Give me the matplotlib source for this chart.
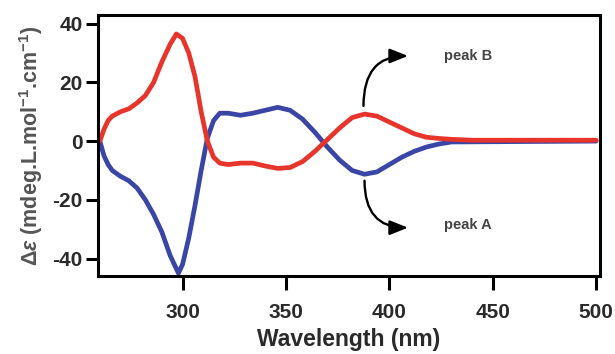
import numpy as np
import matplotlib.pyplot as plt

# CD spectra
wl_red = [260, 262, 264, 266, 270, 274, 278, 282, 286, 290, 294, 297, 300, 303, 306, 309, 312, 315, 318,
          322, 328, 334, 340, 346, 352, 358, 364, 370, 376, 382, 388, 394, 400, 406, 412, 418, 424, 430, 440, 500]
de_red = [0, 4, 7, 8.5, 10, 11, 13, 15.5, 20, 27, 33, 36.5, 35, 30, 22, 10, 0, -5.5, -7.5,
          -8, -7.5, -7.5, -8.5, -9.3, -9, -7, -3.5, 0.5, 4.5, 8, 9.2, 8.5, 6.5, 4.5, 2.5, 1.3, 0.9, 0.6, 0.3, 0.3]

wl_blue = [260, 262, 264, 266, 270, 274, 278, 282, 286, 290, 294, 298, 300, 303, 306, 309, 312, 315, 318,
           322, 328, 334, 340, 346, 352, 358, 364, 370, 376, 382, 388, 394, 400, 406, 412, 418, 424, 430, 500]
de_blue = [0, -5, -8, -10, -12, -13.5, -16, -20, -25, -31, -39, -45, -42, -33, -22, -10, 1, 7, 9.5,
           9.5, 8.8, 9.5, 10.5, 11.5, 10.5, 7.5, 3, -2, -6.5, -10, -11.3, -10.5, -8, -5.5, -3.5, -2, -1, -0.3, 0]

x_ticks = [300, 350, 400, 450, 500]
y_ticks = [-40, -20, 0, 20, 40]

plt.rcParams['font.family'] = ['Liberation Sans', 'DejaVu Sans']
plt.rcParams['axes.unicode_minus'] = False
plt.rcParams['mathtext.fontset'] = 'custom'
plt.rcParams['mathtext.rm'] = 'Liberation Sans:bold'
plt.rcParams['mathtext.it'] = 'Liberation Sans:italic:bold'
plt.rcParams['mathtext.bf'] = 'Liberation Sans:bold'

fig = plt.figure(figsize=(6.15, 3.54), dpi=100)
ax = fig.add_axes([0.159, 0.22, 0.817, 0.738])

ax.plot(wl_blue, de_blue, color='#3a46a6', lw=3.4, solid_capstyle='round')
ax.plot(wl_red, de_red, color='#e8352b', lw=3.4, solid_capstyle='round')

ax.set_xlim(259, 502)
ax.set_ylim(-46, 43)
ax.set_xticks(x_ticks)
ax.set_yticks(y_ticks)
ax.tick_params(axis='x', direction='out', length=10, width=2.2, labelsize=15, pad=9)
ax.tick_params(axis='y', direction='out', length=9, width=2.2, labelsize=15, pad=2)
for lab in ax.get_xticklabels() + ax.get_yticklabels():
    lab.set_fontweight('bold')
    lab.set_color('#2a2a2a')
for sp in ax.spines.values():
    sp.set_linewidth(2.2)

ax.set_xlabel('Wavelength (nm)', fontsize=16.5, fontweight='bold', color='#2a2a2a', labelpad=5)
ax.set_ylabel(r'$\Delta\varepsilon$ (mdeg.L.mol$^{-1}$.cm$^{-1}$)', fontsize=15.5,
              fontweight='bold', color='#555555', labelpad=5)

# curved arrows pointing to the peak labels
arrow_kw = dict(arrowstyle='-|>,head_length=0.55,head_width=0.22', lw=1.7, color='black',
                mutation_scale=20, shrinkA=0, shrinkB=0)
ax.annotate('', xy=(409, 29), xytext=(387.5, 12),
            arrowprops=dict(connectionstyle='angle3,angleA=90,angleB=0', **arrow_kw))
ax.annotate('', xy=(409, -29.5), xytext=(388, -13.5),
            arrowprops=dict(connectionstyle='angle3,angleA=-90,angleB=0', **arrow_kw))
ax.text(438, 29, 'peak B', fontsize=10.5, fontweight='bold', color='#444444', ha='center', va='center')
ax.text(438, -28.5, 'peak A', fontsize=10.5, fontweight='bold', color='#444444', ha='center', va='center')

fig.savefig('out.png', dpi=100)
